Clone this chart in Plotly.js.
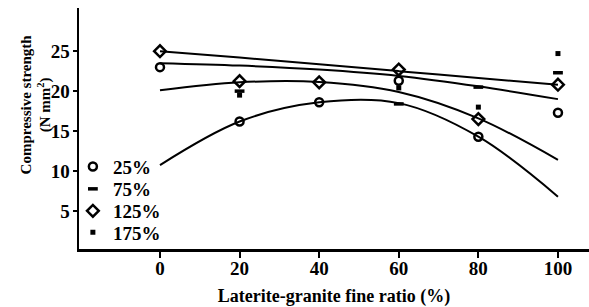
<!DOCTYPE html>
<html><head><meta charset="utf-8">
<script src="https://cdn.plot.ly/plotly-3.0.1.min.js"></script>
<style>html,body{margin:0;padding:0;background:#fff}#chart{width:589px;height:307px}</style>
</head><body><div id="chart"></div>
<script>
// x positions (laterite-granite fine ratio, %)
const ratios = [0, 20, 40, 60, 80, 100];
// fitted trend curves
const fitA = [25.0, 24.2, 23.35, 22.5, 21.65, 20.8];
const fitB = [23.5, 23.2, 22.7, 21.9, 20.6, 19.0];
const fitC = [20.1, 21.1, 21.15, 19.9, 16.6, 11.4];
const fitD = [10.75, 16.2, 18.6, 18.5, 14.3, 6.8];
// measured points
const x25 = [0, 20, 40, 60, 80, 100];
const y25 = [23.0, 16.2, 18.6, 21.3, 14.3, 17.3];
const x75 = [20, 60, 80, 100];
const y75 = [20.0, 18.4, 20.5, 22.3];
const x125 = [0, 20, 40, 60, 80, 100];
const y125 = [25.0, 21.25, 21.1, 22.7, 16.5, 20.8];
const x175 = [20, 60, 80, 100];
const y175 = [19.5, 20.4, 18.0, 24.7];
const names = ['25%', '75%', '125%', '175%'];
const xTicks = [0, 20, 40, 60, 80, 100];
const yTicks = [5, 10, 15, 20, 25];

const FONT = "Liberation Serif, 'Times New Roman', serif";
const curve = (y) => ({x: ratios, y: y, mode: 'lines', line: {color: '#000', width: 2, shape: 'spline'}, showlegend: false, hoverinfo: 'skip'});
const traces = [
  curve(fitA), curve(fitB), curve(fitC), curve(fitD),
  {x: x25, y: y25, name: names[0], mode: 'markers', legend: 'legend',
   marker: {symbol: 'circle-open', size: 8, color: '#000', line: {width: 2.5, color: '#000'}}},
  {x: x75, y: y75, name: names[1], mode: 'markers', legend: 'legend2',
   marker: {symbol: 'line-ew', size: 7, color: '#000', line: {width: 3.5, color: '#000'}}},
  {x: x125, y: y125, name: names[2], mode: 'markers', legend: 'legend3',
   marker: {symbol: 'diamond-open', size: 9, color: '#000', line: {width: 2.5, color: '#000'}}},
  {x: x175, y: y175, name: names[3], mode: 'markers', legend: 'legend4',
   marker: {symbol: 'square', size: 5, color: '#000', line: {width: 0}}}
];
const leg = (y) => ({x: -0.012, xanchor: 'left', y: y, yanchor: 'middle', bgcolor: 'rgba(0,0,0,0)', borderwidth: 0,
  font: {family: FONT, size: 19, color: '#000', weight: 'bold'}});
const layout = {
  width: 589, height: 307,
  margin: {l: 79, r: 0, t: 8, b: 58},
  paper_bgcolor: '#fff', plot_bgcolor: '#fff',
  font: {family: FONT, size: 19, color: '#000'},
  xaxis: {range: [-20.35, 107.8], tickvals: xTicks, ticktext: xTicks.map(String), ticks: 'outside', ticklen: 6, tickwidth: 2,
    tickcolor: '#000', showline: true, linewidth: 2.5, linecolor: '#000', showgrid: false, zeroline: false,
    ticklabelstandoff: -5,
    tickfont: {family: FONT, size: 19, color: '#000', weight: 'bold'},
    title: {text: 'Laterite-granite fine ratio (%)', font: {family: FONT, size: 18, color: '#000', weight: 'bold'}, standoff: 12}},
  yaxis: {range: [0.25, 30.4], tickvals: yTicks, ticktext: yTicks.map(String), ticks: 'outside', ticklen: 4, tickwidth: 2,
    tickcolor: '#000', showline: true, linewidth: 2.5, linecolor: '#000', showgrid: false, zeroline: false,
    ticklabelstandoff: -1,
    tickfont: {family: FONT, size: 19, color: '#000', weight: 'bold'}},
  legend: leg(0.3415), legend2: leg(0.249), legend3: leg(0.158), legend4: leg(0.069),
  annotations: [{text: 'Compressive strength<br>(N mm<sup>2</sup>)', xref: 'paper', yref: 'paper', x: -0.0843, y: 0.6,
    xanchor: 'center', yanchor: 'middle', textangle: -90, showarrow: false,
    font: {family: FONT, size: 15, color: '#000', weight: 'bold'}}]
};
Plotly.newPlot('chart', traces, layout, {staticPlot: true, displayModeBar: false});
</script></body></html>
